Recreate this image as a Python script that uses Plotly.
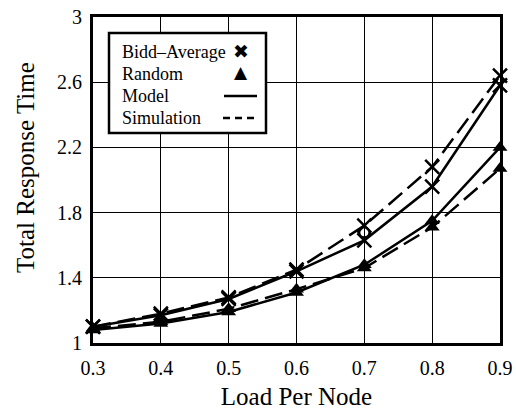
import plotly.graph_objects as go

load = [0.3, 0.4, 0.5, 0.6, 0.7, 0.8, 0.9]
bidd_model = [1.10, 1.17, 1.27, 1.44, 1.63, 1.96, 2.58]
bidd_sim = [1.10, 1.18, 1.28, 1.45, 1.72, 2.08, 2.64]
random_model = [1.08, 1.12, 1.19, 1.31, 1.48, 1.75, 2.20]
random_sim = [1.09, 1.13, 1.21, 1.33, 1.46, 1.71, 2.07]
extra_x = [0.7]
extra_y = [1.68]

legend_labels = ["Bidd–Average", "Random", "Model", "Simulation"]
y_ticks = [1, 1.4, 1.8, 2.2, 2.6, 3]
y_tick_text = ["1", "1.4", "1.8", "2.2", "2.6", "3"]
x_ticks = [0.3, 0.4, 0.5, 0.6, 0.7, 0.8, 0.9]

FONT = "Liberation Serif"
fig = go.Figure()

def add(y, dash, symbol, size, filled):
    fig.add_trace(go.Scatter(
        x=load, y=y, mode="lines+markers",
        line=dict(color="black", width=2.5, dash=dash),
        marker=dict(symbol=symbol, size=size, color="black",
                    line=dict(color="black", width=2.5 if not filled else 0)),
        showlegend=False, cliponaxis=False))

add(bidd_model, "solid", "x-thin-open", 14, False)
add(bidd_sim, "18px,7px", "x-thin-open", 14, False)
add(random_model, "solid", "triangle-up", 13, True)
add(random_sim, "18px,7px", "triangle-up", 13, True)
fig.add_trace(go.Scatter(x=extra_x, y=extra_y, mode="markers",
                         marker=dict(symbol="circle-open", size=10, color="black",
                                     line=dict(width=2)), showlegend=False))

W, H = 516, 413
L, R, T, B = 93, 16, 17, 70
pw, ph = W - L - R, H - T - B

def px(x):
    return (x - L) / pw

def py(y):
    return (H - B - y) / ph

shapes = [dict(type="rect", xref="paper", yref="paper",
               x0=px(109), x1=px(266), y0=py(133), y1=py(33),
               line=dict(color="black", width=2.5), fillcolor="white", layer="above")]
annotations = []
rows = [52, 74, 96, 118]
for lab, yy in zip(legend_labels, rows):
    annotations.append(dict(xref="paper", yref="paper", x=px(120), y=py(yy),
                            text=lab, showarrow=False, xanchor="left", yanchor="middle",
                            font=dict(family=FONT, size=18, color="black")))
annotations.append(dict(xref="paper", yref="paper", x=px(241), y=py(51), text="✖",
                        showarrow=False, xanchor="center", yanchor="middle",
                        font=dict(family="DejaVu Sans", size=19, color="black")))
annotations.append(dict(xref="paper", yref="paper", x=px(241), y=py(72), text="▲",
                        showarrow=False, xanchor="center", yanchor="middle",
                        font=dict(family="DejaVu Sans", size=17, color="black")))
annotations.append(dict(xref="paper", yref="paper", x=px(25), y=py(168),
                        text="Total Response Time", textangle=-90, showarrow=False,
                        xanchor="center", yanchor="middle",
                        font=dict(family=FONT, size=25, color="black")))
shapes.append(dict(type="line", xref="paper", yref="paper", x0=px(224), x1=px(257),
                   y0=py(96), y1=py(96), line=dict(color="black", width=2.5), layer="above"))
shapes.append(dict(type="line", xref="paper", yref="paper", x0=px(223), x1=px(256),
                   y0=py(118), y1=py(118), line=dict(color="black", width=2.5, dash="7px,5px"),
                   layer="above"))

fig.update_layout(
    width=W, height=H, margin=dict(l=L, r=R, t=T, b=B, autoexpand=False),
    paper_bgcolor="white", plot_bgcolor="white",
    font=dict(family=FONT, color="black", size=16),
    shapes=shapes, annotations=annotations,
    xaxis=dict(range=[0.3, 0.9], tickvals=x_ticks, ticktext=[str(v) for v in x_ticks],
               showgrid=True, gridcolor="black", gridwidth=1.3, zeroline=False,
               showline=True, linecolor="black", linewidth=3, mirror=True,
               ticks="", tickfont=dict(size=20), ticklabelstandoff=5, automargin=False,
               title=dict(text="Load Per Node", font=dict(size=25), standoff=10)),
    yaxis=dict(range=[1, 3], tickvals=y_ticks, ticktext=y_tick_text,
               showgrid=True, gridcolor="black", gridwidth=1.3, zeroline=False,
               showline=True, linecolor="black", linewidth=3, mirror=True,
               ticks="", tickfont=dict(size=20), ticklabelstandoff=4, automargin=False),
)

fig.write_html("out.html", config={"displayModeBar": False},
               post_script="document.body.style.margin='0';document.body.style.overflow='hidden';")
